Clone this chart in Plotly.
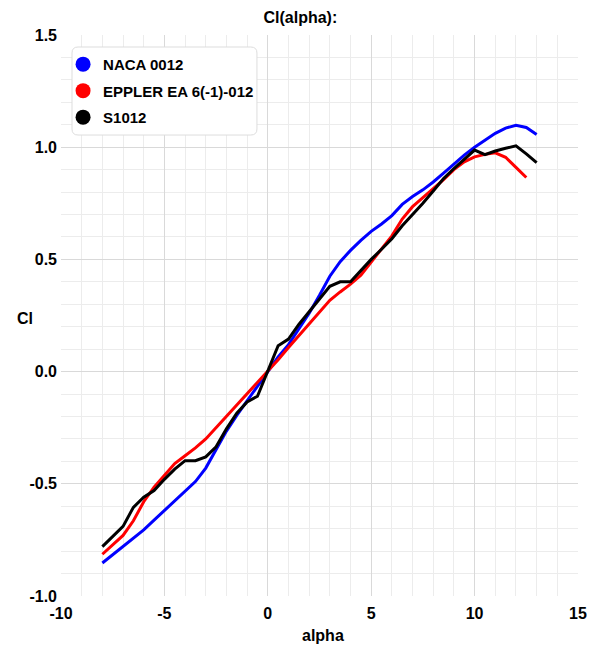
import plotly.graph_objects as go

alpha_naca = [-8, -7.5, -7, -6.5, -6, -5.5, -5, -4.5, -4, -3.5, -3, -2.5, -2, -1.5, -1, -0.5,
              0, 0.5, 1, 1.5, 2, 2.5, 3, 3.5, 4, 4.5, 5, 5.5, 6, 6.5, 7, 7.5, 8, 8.5, 9, 9.5,
              10, 10.5, 11, 11.5, 12, 12.5, 13]
cl_naca = [-0.853, -0.815, -0.78, -0.742, -0.705, -0.662, -0.62, -0.578, -0.535, -0.49, -0.43,
           -0.35, -0.265, -0.195, -0.13, -0.065, 0.0, 0.065, 0.12, 0.19, 0.26, 0.34, 0.425,
           0.49, 0.54, 0.585, 0.625, 0.658, 0.695, 0.745, 0.78, 0.81, 0.845, 0.885, 0.925,
           0.965, 1.0, 1.032, 1.062, 1.085, 1.098, 1.088, 1.057]

alpha_eppler = [-8, -7.5, -7, -6.5, -6, -5.5, -5, -4.5, -4, -3.5, -3, -2.5, -2, -1.5, -1, -0.5,
                0, 0.5, 1, 1.5, 2, 2.5, 3, 3.5, 4, 4.5, 5, 5.5, 6, 6.5, 7, 7.5, 8, 8.5, 9, 9.5,
                10, 10.5, 11, 11.5, 12, 12.5]
cl_eppler = [-0.814, -0.77, -0.73, -0.665, -0.58, -0.515, -0.46, -0.41, -0.375, -0.34, -0.30,
             -0.25, -0.198, -0.148, -0.1, -0.05, 0.0, 0.053, 0.107, 0.16, 0.213, 0.268, 0.318,
             0.355, 0.39, 0.43, 0.49, 0.545, 0.605, 0.68, 0.735, 0.775, 0.815, 0.855, 0.9,
             0.935, 0.957, 0.968, 0.975, 0.955, 0.91, 0.865]

alpha_s1012 = [-8, -7.5, -7, -6.5, -6, -5.5, -5, -4.5, -4, -3.5, -3, -2.5, -2, -1.5, -1, -0.5,
               0, 0.5, 1, 1.5, 2, 2.5, 3, 3.5, 4, 4.5, 5, 5.5, 6, 6.5, 7, 7.5, 8, 8.5, 9, 9.5,
               10, 10.5, 11, 11.5, 12, 12.5, 13]
cl_s1012 = [-0.78, -0.735, -0.69, -0.605, -0.56, -0.53, -0.48, -0.435, -0.397, -0.397, -0.38,
            -0.335, -0.255, -0.185, -0.135, -0.11, 0.0, 0.115, 0.145, 0.21, 0.267, 0.325, 0.38,
            0.4, 0.4, 0.45, 0.5, 0.545, 0.592, 0.65, 0.7, 0.75, 0.805, 0.86, 0.905, 0.945,
            0.987, 0.967, 0.983, 0.995, 1.006, 0.97, 0.931]

x_tick_vals = [-10, -5, 0, 5, 10, 15]
x_tick_text = ["-10", "-5", "0", "5", "10", "15"]
y_tick_vals = [-1.0, -0.5, 0.0, 0.5, 1.0, 1.5]
y_tick_text = ["-1.0", "-0.5", "0.0", "0.5", "1.0", "1.5"]

series = [
    ("NACA 0012", alpha_naca, cl_naca, "#0000ff"),
    ("EPPLER EA 6(-1)-012", alpha_eppler, cl_eppler, "#ff0000"),
    ("S1012", alpha_s1012, cl_s1012, "#000000"),
]

FONT = "Liberation Sans, Arial, sans-serif"
BOLD16 = dict(family=FONT, size=16, color="#000", weight="bold")

fig = go.Figure()
for name, xs, ys, col in series:
    fig.add_trace(go.Scatter(x=xs, y=ys, mode="lines", line=dict(color=col, width=3),
                             showlegend=False, legendgroup=name, hoverinfo="skip"))
for name, xs, ys, col in series:
    fig.add_trace(go.Scatter(x=[None], y=[None], mode="markers", name=name, legendgroup=name,
                             marker=dict(color=col, size=15, symbol="circle")))

fig.update_layout(
    width=579, height=638,
    margin=dict(l=53, r=9, t=27, b=50),
    paper_bgcolor="white", plot_bgcolor="white",
    title=dict(text="Cl(alpha):", xref="container", x=0.505, xanchor="center",
               yref="container", y=0.9859, yanchor="middle", font=BOLD16),
    xaxis=dict(range=[-10, 15], tickvals=x_tick_vals, ticktext=x_tick_text,
               showgrid=True, gridcolor="#d9d9d9", gridwidth=1,
               minor=dict(dtick=1, showgrid=True, gridcolor="#ececec", gridwidth=1),
               zeroline=False, showline=False, ticks="", ticklabelstandoff=6,
               tickfont=BOLD16, automargin=False),
    yaxis=dict(range=[-1.0, 1.5], tickvals=y_tick_vals, ticktext=y_tick_text,
               showgrid=True, gridcolor="#d9d9d9", gridwidth=1,
               minor=dict(dtick=0.1, showgrid=True, gridcolor="#ececec", gridwidth=1),
               zeroline=False, showline=False, ticks="", ticklabelstandoff=3,
               tickfont=BOLD16, automargin=False),
    legend=dict(x=0.004, y=0.977, xanchor="left", yanchor="top",
                bgcolor="rgba(0,0,0,0)", borderwidth=0,
                font=dict(family=FONT, size=15, color="#000", weight="bold"),
                tracegroupgap=4, traceorder="grouped", itemsizing="trace"),
    showlegend=True,
)

fig.add_shape(type="path", xref="paper", yref="paper",
              path="M 0.033 0.9786 L 0.367 0.9786 Q 0.379 0.9786 0.379 0.968 L 0.379 0.8324 "
                   "Q 0.379 0.8217 0.367 0.8217 L 0.033 0.8217 Q 0.0213 0.8217 0.0213 0.8324 "
                   "L 0.0213 0.968 Q 0.0213 0.9786 0.033 0.9786 Z",
              fillcolor="white", line=dict(color="#dddddd", width=1), layer="above")

fig.add_annotation(text="Cl", xref="paper", yref="paper", x=-0.0696, y=0.4955, showarrow=False,
                   xanchor="center", yanchor="middle", font=BOLD16)
fig.add_annotation(text="alpha", xref="paper", yref="paper", x=0.507, y=-0.0713, showarrow=False,
                   xanchor="center", yanchor="middle", font=BOLD16)

fig.write_html("out.html")
